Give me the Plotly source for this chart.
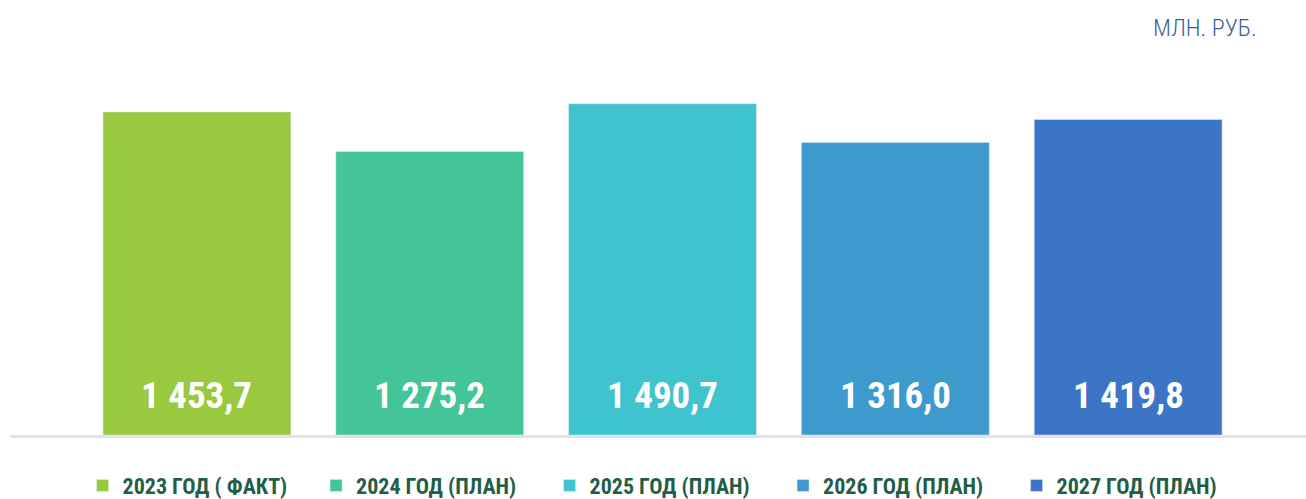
import plotly.graph_objects as go

categories = ["2023 ГОД ( ФАКТ)", "2024 ГОД (ПЛАН)", "2025 ГОД (ПЛАН)", "2026 ГОД (ПЛАН)", "2027 ГОД (ПЛАН)"]
values = [1453.7, 1275.2, 1490.7, 1316.0, 1419.8]
labels = ["1 453,7", "1 275,2", "1 490,7", "1 316,0", "1 419,8"]
colors = ["#98c93f", "#43c599", "#3fc3ce", "#3e99cc", "#3c74c6"]
unit_label = "МЛН. РУБ."

FONT = "Roboto Condensed, Open Sans Condensed, sans-serif"

fig = go.Figure()
for i, (c, v, col) in enumerate(zip(categories, values, colors)):
    fig.add_trace(go.Bar(
        x=[i], y=[v], name="<b>" + c + "</b>", marker_color=col, width=0.807,
        hoverinfo="skip",
    ))
    fig.add_annotation(
        x=i, y=0, text="<b>" + labels[i] + "</b>", showarrow=False,
        yanchor="bottom", yshift=16,
        font=dict(family=FONT, size=37, color="white"),
    )

fig.add_annotation(
    xref="paper", yref="paper", x=(1259 - 10) / 1296, y=1, xanchor="right", yanchor="bottom",
    yshift=-9, text=unit_label, showarrow=False,
    font=dict(family=FONT, size=24, color="#3a5f9e", weight=300),
)

fig.update_layout(
    width=1306, height=499,
    margin=dict(l=10, r=0, t=35, b=64, autoexpand=False),
    plot_bgcolor="white", paper_bgcolor="white",
    barmode="overlay",
    showlegend=True,
    legend=dict(
        orientation="h", x=0.056, xanchor="left", y=-0.074, yanchor="top",
        font=dict(family=FONT, size=22, color="#1f5e47"),
        entrywidth=188.5, itemwidth=30, tracegroupgap=0,
    ),
    xaxis=dict(
        range=[-0.803, 4.764], showticklabels=False, showgrid=False, zeroline=False,
        showline=True, linecolor="#e3e1f0", linewidth=3, fixedrange=True,
    ),
    yaxis=dict(
        range=[0, 1800], showticklabels=False, showgrid=False, zeroline=False,
        showline=False, fixedrange=True,
    ),
)

fig.write_html("out.html", config={"displayModeBar": False},
               post_script="document.body.style.margin='0';")
